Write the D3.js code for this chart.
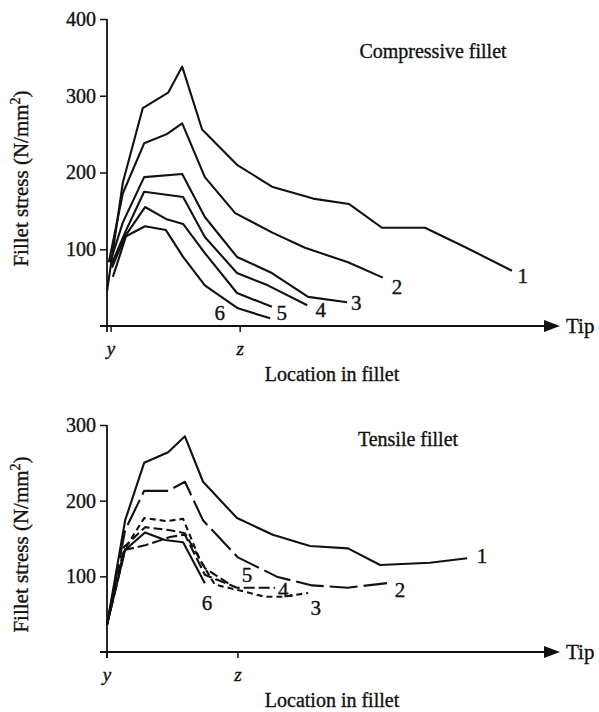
<!DOCTYPE html>
<html>
<head>
<meta charset="utf-8">
<script src="https://cdn.jsdelivr.net/npm/d3@7"></script>
<style>
  body { margin: 0; background: #fff; }
  svg { display: block; font-family: 'Liberation Serif', 'Times New Roman', serif; }
  svg text { stroke: #111; stroke-width: 0.35px; }
</style>
</head>
<body>
<svg width="599" height="712"></svg>
<script>
// Location along the fillet runs 0 (root) .. 100 (tip arrow), stress in N/mm2
const locTickLabels = ['y', 'z'];
const curveNames = ['1', '2', '3', '4', '5', '6'];

// Compressive fillet
const compStressTicks = [100, 200, 300, 400];
const compLocTicks = [0.9, 29.4];
const comp1 = [[0, 45], [3.5, 187], [7.9, 284], [13.5, 304], [16.6, 338], [21.0, 256], [28.7, 210], [36.6, 181], [45.5, 166], [53.4, 159], [60.7, 128], [70.2, 128], [79.0, 103], [89.4, 72]];
const comp2 = [[0.4, 83], [3.5, 173], [8.2, 238], [13.2, 250], [16.6, 264], [21.6, 194], [28.3, 147], [36.4, 122], [43.7, 102], [53.2, 83], [60.9, 63]];
const comp3 = [[0.7, 83], [3.5, 135], [8.2, 194], [16.6, 198], [21.6, 142], [28.7, 90], [36.4, 69], [44.4, 38], [53.0, 31]];
const comp4 = [[0.9, 79], [4.0, 122], [8.2, 175], [16.8, 168], [21.6, 116], [28.7, 69], [35.5, 53], [44.2, 27]];
const comp5 = [[1.1, 76], [4.0, 117], [8.4, 155], [13.2, 139], [16.8, 133], [21.6, 95], [28.7, 43], [36.4, 25]];
const comp6 = [[1.3, 64], [4.2, 117], [8.4, 130], [13.0, 125], [16.8, 90], [21.6, 53], [28.9, 23], [36.0, 10]];
const compLabelAt = [[91.8, 66], [64.0, 51], [55.0, 31], [47.2, 21], [38.6, 17], [24.9, 17]];

// Tensile fillet
const tensStressTicks = [100, 200, 300];
const tensLocTicks = [0, 28.9];
const tens1 = [[0, 36], [4.0, 174], [8.2, 250], [13.5, 264], [17.2, 285], [21.2, 225], [28.7, 177], [36.6, 155], [44.8, 140], [53.2, 137], [60.3, 115], [71.3, 118], [79.5, 124]];
const tens2 = [[0, 36], [4.0, 161], [8.2, 213], [13.5, 213], [17.2, 225], [21.2, 174], [28.9, 125], [37.7, 99], [45.3, 88], [53.2, 85], [61.8, 91]];
const tens3 = [[0, 36], [3.8, 135], [8.2, 177], [13.2, 173], [16.8, 176], [20.5, 122], [23.8, 89], [28.9, 82], [34.9, 73], [38.9, 73], [44.4, 78]];
const tens4 = [[0, 36], [4.0, 135], [8.4, 141], [13.9, 152], [17.2, 155], [21.6, 102], [28.7, 85], [37.1, 85]];
const tens5 = [[0, 36], [3.8, 139], [8.4, 165], [13.9, 161], [17.2, 157], [21.6, 111], [27.2, 89]];
const tens6 = [[0, 36], [4.0, 135], [8.4, 158], [12.8, 148], [16.8, 145], [21.6, 91]];
const tensLabelText = ['1', '2', '3', '4.', '5', '6'];
const tensLabelAt = [[82.8, 127], [64.7, 83], [46.1, 59], [39.5, 82], [30.9, 102], [22.1, 65]];

const svg = d3.select('svg');
svg.append('rect').attr('width', 599).attr('height', 712).attr('fill', '#fff');

function drawPanel(p) {
  const g = svg.append('g');
  const x = d3.scaleLinear().domain([0, 100]).range([107, 560]);
  const y = d3.scaleLinear().domain([0, p.yMax]).range([p.y0, p.yTop]);
  const ink = '#111';

  // y axis
  const yAxis = g
    .append('g')
    .attr('transform', 'translate(107,0)')
    .call(d3.axisLeft(y).tickValues(p.stressTicks).tickSize(7).tickSizeOuter(0).tickPadding(4));
  yAxis.select('.domain').remove();
  yAxis.selectAll('line').attr('stroke', ink).attr('stroke-width', 1.5);
  yAxis
    .selectAll('text')
    .attr('font-family', 'Liberation Serif')
    .attr('font-size', 20)
    .attr('fill', ink);
  g.append('line')
    .attr('x1', 107).attr('x2', 107)
    .attr('y1', y(p.yMax)).attr('y2', p.y0 + 6)
    .attr('stroke', ink).attr('stroke-width', 1.8);

  // x axis with arrow to the tip
  g.append('line')
    .attr('x1', 100).attr('x2', x(100) - 12)
    .attr('y1', p.y0).attr('y2', p.y0)
    .attr('stroke', ink).attr('stroke-width', 1.8);
  g.append('path')
    .attr('d', `M${x(100) - 16},${p.y0 - 6}L${x(100)},${p.y0}L${x(100) - 16},${p.y0 + 6}Z`)
    .attr('fill', ink);
  g.append('text')
    .attr('x', x(100) + 6).attr('y', p.y0 + 7)
    .attr('font-size', 21).attr('fill', ink)
    .text('Tip');

  const locT = g.selectAll('.loc').data(p.locTicks).enter().append('g').attr('class', 'loc');
  locT.append('line')
    .attr('x1', (d) => x(d)).attr('x2', (d) => x(d))
    .attr('y1', p.y0).attr('y2', p.y0 + 6)
    .attr('stroke', ink).attr('stroke-width', 1.5);
  locT.append('text')
    .attr('x', (d) => x(d)).attr('y', p.y0 + 29)
    .attr('text-anchor', 'middle')
    .attr('font-style', 'italic')
    .attr('font-size', 19).attr('fill', ink)
    .text((d, i) => locTickLabels[i]);

  g.append('text')
    .attr('x', 332).attr('y', p.y0 + 55)
    .attr('text-anchor', 'middle')
    .attr('font-size', 20).attr('fill', ink)
    .text('Location in fillet');

  // y title, rotated, with superscript
  const yt = g.append('text')
    .attr('transform', `translate(28,${(p.y0 + y(p.yMax)) / 2 + 6}) rotate(-90)`)
    .attr('text-anchor', 'middle')
    .attr('font-size', 21).attr('fill', ink);
  yt.append('tspan').text('Fillet stress (N/mm');
  yt.append('tspan').attr('dy', -8).attr('font-size', 14).text('2');
  yt.append('tspan').attr('dy', 8).text(')');

  g.append('text')
    .attr('x', p.titleX).attr('y', p.titleY)
    .attr('text-anchor', 'middle')
    .attr('font-size', 20).attr('fill', ink)
    .text(p.title);

  // curves
  const line = d3.line().x((d) => x(d[0])).y((d) => y(d[1]));
  g.selectAll('.curve')
    .data(p.curves)
    .enter()
    .append('path')
    .attr('class', 'curve')
    .attr('d', line)
    .attr('fill', 'none')
    .attr('stroke', ink)
    .attr('stroke-width', 2.1)
    .attr('stroke-linejoin', 'round')
    .attr('stroke-dasharray', (d, i) => p.dashes[i]);

  g.selectAll('.lab')
    .data(p.labelAt)
    .enter()
    .append('text')
    .attr('class', 'lab')
    .attr('x', (d) => x(d[0]))
    .attr('y', (d) => y(d[1]))
    .attr('dy', '0.35em')
    .attr('text-anchor', 'middle')
    .attr('font-size', 21).attr('fill', ink)
    .text((d, i) => p.labelText[i]);
}

drawPanel({
  yMax: 400, y0: 326, yTop: 19,
  stressTicks: compStressTicks,
  locTicks: compLocTicks,
  curves: [comp1, comp2, comp3, comp4, comp5, comp6],
  dashes: [null, null, null, null, null, null],
  labelAt: compLabelAt,
  labelText: curveNames,
  title: 'Compressive fillet', titleX: 433, titleY: 58
});

drawPanel({
  yMax: 300, y0: 652, yTop: 425,
  stressTicks: tensStressTicks,
  locTicks: tensLocTicks,
  curves: [tens1, tens2, tens3, tens4, tens5, tens6],
  dashes: [null, '28,6', '6,4', '11,4', '9,4', null],
  labelAt: tensLabelAt,
  labelText: tensLabelText,
  title: 'Tensile fillet', titleX: 408, titleY: 446
});
</script>
</body>
</html>
